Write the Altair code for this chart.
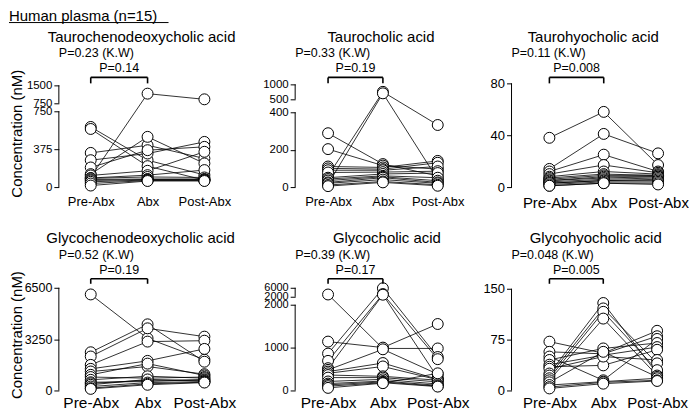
import altair as alt
import pandas as pd

FONT = "Liberation Sans"
TIMES = ["Pre-Abx", "Abx", "Post-Abx"]

# ---- data (nM), one entry per subject, 15 subjects ----
tcdca_pre  = [100, 595, 575, 338, 266, 194, 128, 115, 90, 86, 75, 65, 52, 35, 15]
tcdca_abx  = [1154, 266, 207, 414, 332, 365, 497, 161, 118, 100, 80, 75, 70, 65, 60]
tcdca_post = [917, 120, 69, 283, 447, 398, 234, 349, 168, 95, 80, 75, 70, 65, 60]

tca_pre  = [60, 15, 288, 203, 110, 100, 90, 78, 50, 43, 35, 25, 20, 11, 5]
tca_abx  = [750, 700, 123, 115, 105, 96, 90, 80, 70, 60, 55, 50, 40, 30, 25]
tca_post = [332, 40, 60, 96, 140, 130, 110, 85, 75, 50, 34, 25, 20, 12, 7]

thca_pre  = [38, 14, 12, 10, 8, 7, 6, 5, 5, 4, 3, 3, 2, 1, 1]
thca_abx  = [58, 41, 25, 17, 12, 10, 9, 8, 7, 6, 5, 5, 4, 3, 3]
thca_post = [17, 26, 12, 11, 10, 9, 9, 8, 8, 7, 6, 5, 4, 3, 2]

gcdca_pre  = [6078, 2418, 2150, 1620, 1368, 1200, 990, 850, 675, 520, 450, 360, 250, 147, 100]
gcdca_abx  = [3300, 4186, 3933, 3093, 1873, 1514, 1700, 779, 900, 568, 650, 700, 500, 420, 360]
gcdca_post = [1950, 1820, 3407, 3150, 2630, 1030, 950, 850, 779, 700, 650, 600, 560, 524, 500]

gca_pre  = [3000, 1140, 860, 690, 520, 480, 440, 400, 360, 300, 210, 160, 130, 100, 60]
gca_abx  = [980, 1000, 5800, 3200, 2900, 960, 640, 560, 330, 300, 260, 220, 200, 180, 170]
gca_post = [980, 1550, 780, 730, 300, 380, 260, 250, 240, 200, 150, 120, 100, 90, 400]

ghca_pre  = [72, 57, 50, 45, 38, 35, 32, 25, 22, 18, 15, 12, 8, 5, 3]
ghca_abx  = [55, 54, 15, 62, 52, 37, 50, 129, 121, 116, 106, 57, 13, 12, 10]
ghca_post = [88, 80, 76, 70, 64, 60, 45, 25, 40, 30, 22, 20, 18, 15, 14]

names = ["Taurochenodeoxycholic acid", "Taurocholic acid", "Taurohyocholic acid",
         "Glycochenodeoxycholic acid", "Glycocholic acid", "Glycohyocholic acid"]
kw_labels = ["P=0.23 (K.W)", "P=0.33 (K.W)", "P=0.11 (K.W)",
             "P=0.52 (K.W)", "P=0.39 (K.W)", "P=0.048 (K.W)"]
pair_labels = ["P=0.14", "P=0.19", "P=0.008", "P=0.19", "P=0.17", "P=0.005"]
series = [(tcdca_pre, tcdca_abx, tcdca_post), (tca_pre, tca_abx, tca_post),
          (thca_pre, thca_abx, thca_post), (gcdca_pre, gcdca_abx, gcdca_post),
          (gca_pre, gca_abx, gca_post), (ghca_pre, ghca_abx, ghca_post)]

# ---- layout / axis settings (pixel-like display units above zero line) ----
H = 160
scales = [
    dict(type="broken", low=750, L=76, brk=750, top=1500, Ulo=84, Uhi=102,
         lticks=[0, 375, 750], uticks=[750, 1500]),
    dict(type="broken", low=400, L=75, brk=500, top=1000, Ulo=88, Uhi=103,
         lticks=[0, 200, 400], uticks=[500, 1000]),
    dict(type="linear", k=104 / 80, lticks=[0, 40, 80]),
    dict(type="linear", k=103 / 6500, lticks=[0, 3250, 6500]),
    dict(type="broken", low=2000, L=86, brk=2000, top=6000, Ulo=94, Uhi=103,
         lticks=[0, 1000, 2000], uticks=[2000, 6000]),
    dict(type="linear", k=102 / 150, lticks=[0, 75, 150]),
]
widths = [200, 180, 175, 200, 180, 175]
xmins = [-0.561, -0.6, -0.697, -0.561, -0.6, -0.704]
steps = [57, 55, 54.5, 57, 55, 54]
title_x = [0.895, 0.964, 0.807, 0.877, 1.073, 0.86]
xlab_size = [13, 13, 15, 15.5, 15.5, 15]
ylab_size = [11.5, 11.5, 13, 12.5, 11, 13]
ann = [dict(title=150, kw=134, p=119, bt=110, bb=104),
       dict(title=153, kw=136, p=121, bt=112, bb=107)]


def disp_expr(s):
    if s["type"] == "linear":
        return f"datum.value * {s['k']}"
    a = s["L"] / s["low"]
    b = (s["Uhi"] - s["Ulo"]) / (s["top"] - s["brk"])
    return (f"datum.value <= {s['low']} ? datum.value * {a} : "
            f"{s['Ulo']} + (datum.value - {s['brk']}) * {b}")


def tick_list(s):
    if s["type"] == "linear":
        return [(round(v * s["k"], 4), str(v)) for v in s["lticks"]]
    a = s["L"] / s["low"]
    b = (s["Uhi"] - s["Ulo"]) / (s["top"] - s["brk"])
    t = [(round(v * a, 4), str(v)) for v in s["lticks"]]
    t += [(round(s["Ulo"] + (v - s["brk"]) * b, 4), str(v)) for v in s["uticks"]]
    return t


def axis_segments(s):
    if s["type"] == "linear":
        return [(0, round(s["lticks"][-1] * s["k"], 4))]
    return [(0, s["L"]), (s["Ulo"], s["Uhi"])]


def make_panel(i):
    row = i // 3
    col = i % 3
    s = scales[i]
    pre, abx, post = series[i]
    recs = []
    for j in range(len(pre)):
        for t, arr in enumerate((pre, abx, post)):
            recs.append({"subject": j, "t": t, "value": arr[j]})
    df = pd.DataFrame(recs)
    xmin = xmins[i]
    xmax = xmin + widths[i] / steps[i]
    xsc = alt.Scale(domain=[xmin, xmax], nice=False, zero=False)
    ysc = alt.Scale(domain=[0, H], nice=False, zero=False)

    ticks = tick_list(s)
    lab = "''"
    for d, l in ticks[::-1]:
        lab = f"(abs(datum.value - {d}) < 0.01 ? '{l}' : {lab})"
    yaxis_kw = dict(values=[d for d, _ in ticks], labelExpr=lab, domain=False,
                    ticks=True, tickSize=5, tickColor="black", tickWidth=1,
                    grid=False, labelFontSize=ylab_size[i], labelFont=FONT,
                    labelColor="black", labelPadding=2, labelOverlap=False,
                    labelFlush=False)
    if col == 0:
        yaxis_kw.update(title="Concentration (nM)", titleFontSize=15, titleFont=FONT,
                        titleFontWeight="normal", titleColor="black",
                        titleAngle=270, titleX=-42, titleY=106 if row == 0 else 104,
                        titleAlign="center", titleBaseline="middle")
    else:
        yaxis_kw.update(title=None)
    yaxis = alt.Axis(**yaxis_kw)
    xaxis = alt.Axis(values=[0, 1, 2],
                     labelExpr="['Pre-Abx','Abx','Post-Abx'][datum.value]",
                     domain=False, ticks=False, grid=False, title=None,
                     labelFontSize=xlab_size[i], labelFont=FONT, labelColor="black",
                     labelPadding=8 if row == 0 else 5, labelFlush=False, labelOverlap=False)

    X = lambda f: alt.X(f, scale=xsc, axis=xaxis)
    Y = lambda f: alt.Y(f, scale=ysc, axis=yaxis)

    base = alt.Chart(df).transform_calculate(disp=disp_expr(s))
    lines = base.mark_line(color="black", strokeWidth=0.8).encode(
        x=X("t:Q"), y=Y("disp:Q"), detail="subject:N", order="t:Q")
    points = base.mark_circle(size=120, color="white", stroke="black",
                              strokeWidth=1, opacity=1).encode(
        x=X("t:Q"), y=Y("disp:Q"))

    segs = pd.DataFrame([{"x": xmin, "y": a, "y2": b} for a, b in axis_segments(s)])
    axis_rule = alt.Chart(segs).mark_rule(color="black", strokeWidth=1).encode(
        x=X("x:Q"), y=Y("y:Q"), y2="y2:Q")

    a = ann[row]
    br_h = pd.DataFrame([{"x": 0, "x2": 1, "y": a["bt"]}])
    br_v = pd.DataFrame([{"x": 0, "y": a["bb"], "y2": a["bt"]},
                         {"x": 1, "y": a["bb"], "y2": a["bt"]}])
    bracket_h = alt.Chart(br_h).mark_rule(color="black", strokeWidth=1.6).encode(
        x=X("x:Q"), x2="x2:Q", y=Y("y:Q"))
    bracket_v = alt.Chart(br_v).mark_rule(color="black", strokeWidth=1.6).encode(
        x=X("x:Q"), y=Y("y:Q"), y2="y2:Q")

    def txt(rows, align, size):
        return alt.Chart(pd.DataFrame(rows)).mark_text(
            align=align, baseline="middle", fontSize=size, font=FONT,
            color="black").encode(x=X("x:Q"), y=Y("y:Q"), text="label:N")

    t_title = txt([{"x": title_x[i], "y": a["title"], "label": names[i]}], "center", 15)
    t_kw = txt([{"x": xmin, "y": a["kw"], "label": kw_labels[i]}], "left", 12.5)
    t_p = txt([{"x": 0.5, "y": a["p"], "label": pair_labels[i]}], "center", 12.5)

    layers = [lines, points, axis_rule, bracket_h, bracket_v, t_title, t_kw, t_p]
    if i == 0:
        hx0 = xmin - 50 / steps[0]
        hx1 = xmin + 110 / steps[0]
        layers.append(txt([{"x": hx0, "y": 172, "label": "Human plasma (n=15)"}], "left", 15))
        ul = pd.DataFrame([{"x": hx0, "x2": hx1, "y": 165}])
        layers.append(alt.Chart(ul).mark_rule(color="black", strokeWidth=1).encode(
            x=X("x:Q"), x2="x2:Q", y=Y("y:Q")))
    return alt.layer(*layers).properties(width=widths[i], height=H)


chart = alt.concat(*[make_panel(i) for i in range(6)], columns=3,
                   spacing={"row": 44, "column": 37}, bounds="flush").properties(
    padding={"left": 0, "top": 0, "right": 0, "bottom": -2}
).configure(font=FONT).configure_view(strokeWidth=0)

chart.save("out.html", embed_options={"renderer": "svg", "actions": False})
